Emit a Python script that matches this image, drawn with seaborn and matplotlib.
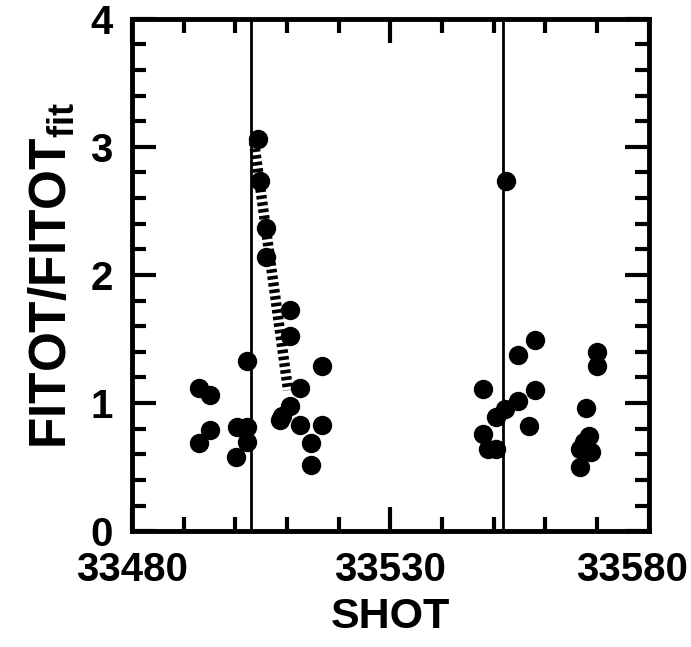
import matplotlib
matplotlib.use("Agg")
from matplotlib import pyplot as plt
from matplotlib.ticker import MultipleLocator, FixedLocator
from matplotlib.transforms import ScaledTranslation
import numpy as np
import pandas
import seaborn as sns

# shot number / normalised FITOT
shot = [33493.0, 33495.1, 33495.1, 33493.0, 33500.3, 33502.2, 33502.2, 33500.1, 33502.2,
        33504.4, 33504.8, 33505.9, 33505.9, 33510.6, 33510.6, 33516.7, 33512.5, 33510.6,
        33509.0, 33508.7, 33512.5, 33516.7, 33514.6, 33514.6,
        33552.3, 33558.0, 33554.7, 33547.9, 33558.0, 33554.7, 33552.1, 33550.5, 33556.9,
        33547.9, 33548.9, 33550.5,
        33569.9, 33569.9, 33567.8, 33568.5, 33567.5, 33566.7, 33568.9, 33566.7]
ratio = [1.12, 1.06, 0.79, 0.685, 0.81, 0.81, 0.70, 0.58, 1.33,
         3.06, 2.73, 2.37, 2.14, 1.73, 1.52, 1.29, 1.12, 0.98,
         0.90, 0.87, 0.83, 0.83, 0.685, 0.52,
         2.73, 1.49, 1.375, 1.11, 1.10, 1.02, 0.95, 0.89, 0.82,
         0.76, 0.645, 0.645,
         1.40, 1.29, 0.96, 0.74, 0.70, 0.645, 0.62, 0.50]

# vertical markers
event_shots = [33503.0, 33551.8]

# hatched decay band
band_shot = [33503.6, 33510.2]
band_ratio = [3.04, 1.10]

x_labels = [33480, 33530, 33580]

df = pandas.DataFrame({"shot": shot, "ratio": ratio})

sns.set_style("white")
plt.rcParams['font.family'] = ['Liberation Sans', 'DejaVu Sans']
plt.rcParams['font.weight'] = 'bold'
plt.rcParams['text.color'] = 'black'
plt.rcParams['axes.labelcolor'] = 'black'
plt.rcParams['xtick.color'] = 'black'
plt.rcParams['ytick.color'] = 'black'
plt.rcParams['mathtext.fontset'] = 'custom'
plt.rcParams['mathtext.rm'] = 'Liberation Sans:bold'
plt.rcParams['mathtext.bf'] = 'Liberation Sans:bold'

fig = plt.figure(figsize=(6.91, 6.47), dpi=100)
ax = fig.add_axes([0.191, 0.179, 0.748, 0.792])

for xv in event_shots:
    ax.axvline(xv, color="black", linewidth=2.0, zorder=1)

ax.plot(band_shot, band_ratio, color="black", linewidth=7.5,
        linestyle=(0, (0.35, 0.3)), solid_capstyle="butt", zorder=2)

sns.scatterplot(data=df, x="shot", y="ratio", ax=ax, s=195, color="black",
                edgecolor="black", linewidth=0, zorder=3, legend=False)

ax.set_xlim(33480, 33580)
ax.set_ylim(0, 4)

ax.xaxis.set_major_locator(FixedLocator(x_labels))
ax.xaxis.set_minor_locator(MultipleLocator(10))
ax.yaxis.set_major_locator(MultipleLocator(1))
ax.yaxis.set_minor_locator(MultipleLocator(0.2))

ax.tick_params(which="both", direction="in", top=True, right=True,
               bottom=True, left=True, width=3, color="black")
ax.tick_params(which="major", length=17, labelsize=29)
ax.tick_params(which="minor", length=10)
ax.tick_params(axis="x", which="major", pad=14)
ax.tick_params(axis="y", which="major", pad=14)

for lab in ax.get_xticklabels() + ax.get_yticklabels():
    lab.set_fontweight("bold")

# last shot label sits pulled in from the right edge
last = ax.get_xticklabels()[-1]
last.set_transform(last.get_transform() + ScaledTranslation(-17 / 100, 0, fig.dpi_scale_trans))

for side in ax.spines.values():
    side.set_linewidth(3.5)
    side.set_color("black")

ax.set_xlabel("SHOT", fontsize=31, fontweight="bold", labelpad=6)
ax.set_ylabel(r"FITOT/FITOT$_{\mathbf{fit}}$", fontsize=37, fontweight="bold", labelpad=10)

fig.savefig("out.png", dpi=100)
